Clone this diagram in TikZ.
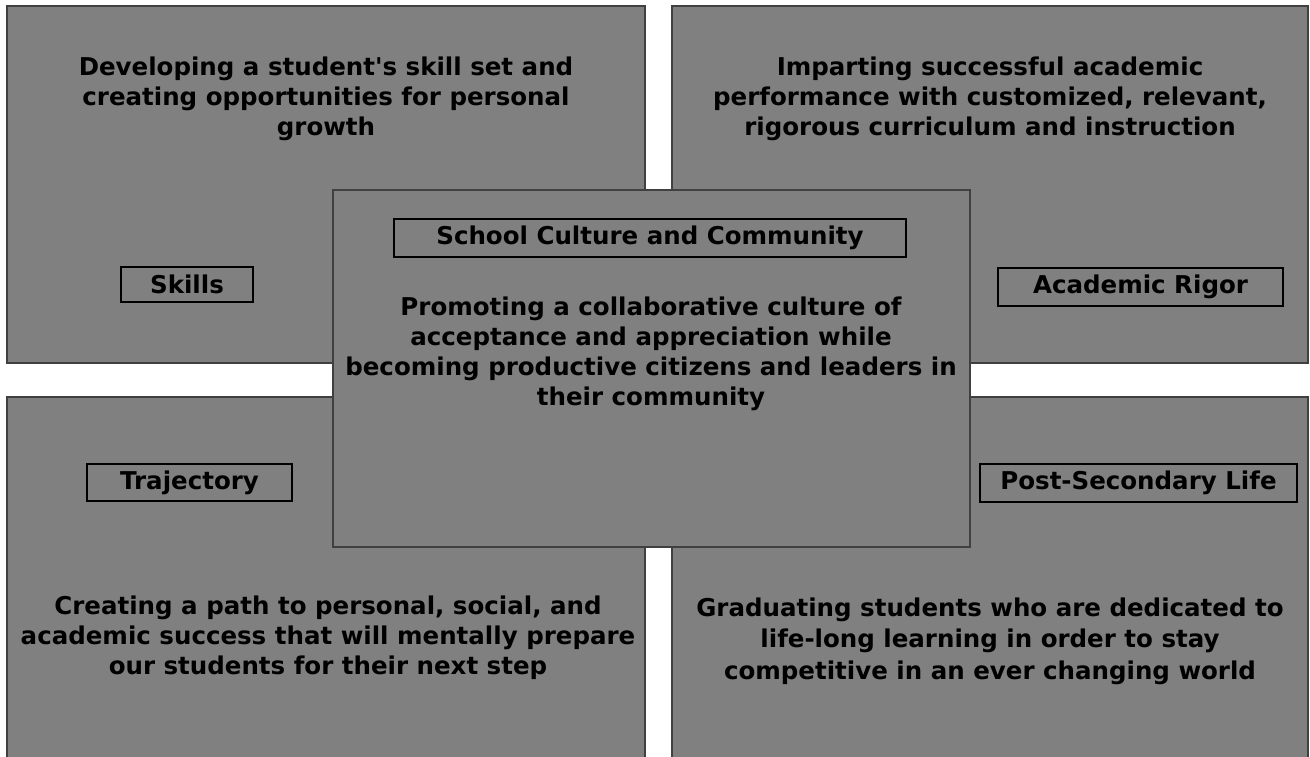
\documentclass[tikz,border=0pt]{standalone}
\usepackage{fontspec}
\setmainfont{DejaVu Sans}
\usepackage{tikz}
\usetikzlibrary{positioning}
\definecolor{panelgray}{HTML}{808080}
\definecolor{edgegray}{HTML}{404040}
\tikzstyle{panel}=[rectangle,draw=edgegray,fill=panelgray,line width=2.5pt,inner sep=0pt]
\tikzstyle{tag}=[rectangle,draw=black,line width=2.5pt,inner sep=0pt,font=\fontsize{24.5}{28}\selectfont\bfseries]
\tikzstyle{blurb}=[align=center,inner sep=0pt,font=\fontsize{24.5}{30}\selectfont\bfseries]

\begin{document}
\begin{tikzpicture}[x=1pt,y=-1pt]
    \fill[white] (0,0) rectangle (1310,756);
    \useasboundingbox (0,0) rectangle (1310,756);
    % four corner panels
    \node[panel,minimum width=638pt,minimum height=357pt] at (326,184.5) (skills) {};
    \node[panel,minimum width=636pt,minimum height=357pt] at (990,184.5) (rigor) {};
    \node[panel,minimum width=638pt,minimum height=364pt] at (326,579) (trajectory) {};
    \node[panel,minimum width=636pt,minimum height=364pt] at (990,579) (postsec) {};
    % centre panel
    \node[panel,minimum width=637pt,minimum height=357pt] at (651.5,368.5) (culture) {};
    % texts
    \node[blurb] at (326,98.5) (skillstext) {Developing a student\textquotesingle s skill set and\\creating opportunities for personal\\growth};
    \node[blurb] at (990,98.5) (rigortext) {Imparting successful academic\\performance with customized, relevant,\\rigorous curriculum and instruction};
    \node[blurb] at (651,354) (culturetext) {Promoting a collaborative culture of\\acceptance and appreciation while\\becoming productive citizens and leaders in\\their community};
    \node[blurb] at (328,638) (trajectorytext) {Creating a path to personal, social, and\\academic success that will mentally prepare\\our students for their next step};
    \node[blurb,font=\fontsize{24.5}{31.5}\selectfont\bfseries] at (990,641) (postsectext) {Graduating students who are dedicated to\\life-long learning in order to stay\\competitive in an ever changing world};
    % tags
    \node[tag,minimum width=132pt,minimum height=35pt] at (187,284.5) (skillstag) {Skills};
    \node[tag,minimum width=512pt,minimum height=38pt] at (650,238) (culturetag) {School Culture and Community};
    \node[tag,minimum width=285pt,minimum height=38pt] at (1140.5,287) (rigortag) {Academic Rigor};
    \node[tag,minimum width=205pt,minimum height=37pt] at (189.5,482.5) (trajectorytag) {Trajectory};
    \node[tag,minimum width=317pt,minimum height=38pt] at (1138.5,483) (postsectag) {Post-Secondary Life};
\end{tikzpicture}
\end{document}
